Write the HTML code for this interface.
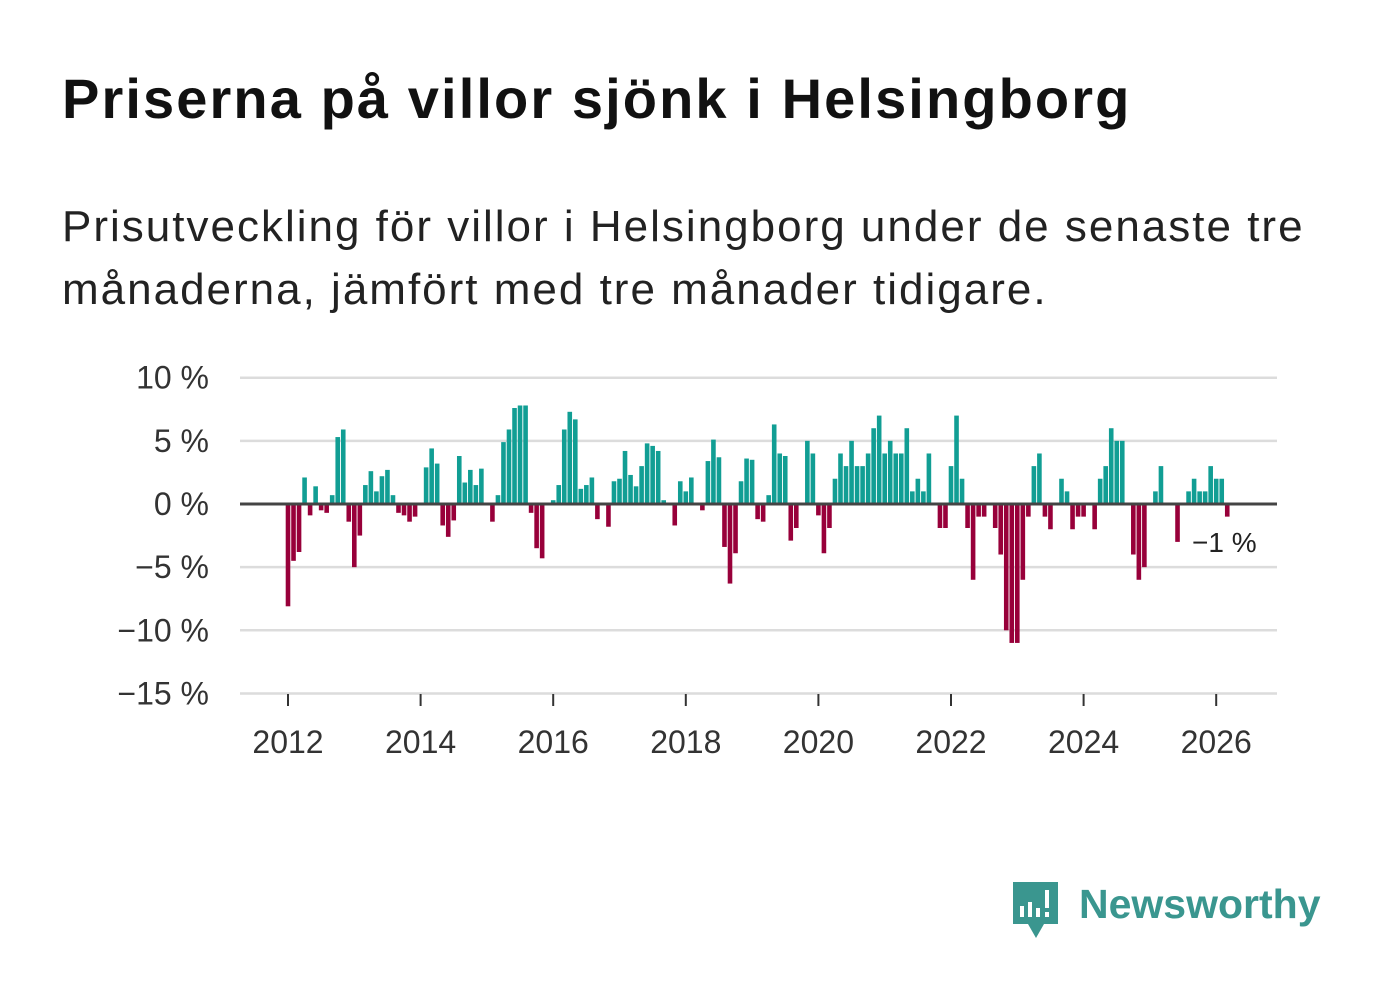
<!DOCTYPE html>
<html><head><meta charset="utf-8">
<style>
body{margin:0;background:#fff;width:1382px;height:999px;overflow:hidden;font-family:"Liberation Sans","DejaVu Sans",sans-serif;}
#title{position:absolute;left:62px;top:66px;font-size:56px;letter-spacing:2.1px;font-weight:bold;color:#111;margin:0;white-space:nowrap;}
#sub{position:absolute;left:62px;top:195px;font-size:44px;letter-spacing:2px;line-height:63px;color:#222;width:1320px;margin:0;white-space:nowrap;}
svg{position:absolute;left:0;top:0;}
</style></head><body>
<h1 id="title">Priserna på villor sjönk i Helsingborg</h1>
<p id="sub">Prisutveckling för villor i Helsingborg under de senaste tre<br>månaderna, jämfört med tre månader tidigare.</p>
<svg id="chart" width="1382" height="999"></svg>
<script>
const values = [
-8.1,-4.5,-3.8,2.1,-0.9,1.4,-0.5,-0.7,0.7,5.3,5.9,-1.4,
-5.0,-2.5,1.5,2.6,1.0,2.2,2.7,0.7,-0.7,-0.9,-1.4,-1.0,
0,2.9,4.4,3.2,-1.7,-2.6,-1.3,3.8,1.7,2.7,1.5,2.8,
0,-1.4,0.7,4.9,5.9,7.6,7.8,7.8,-0.7,-3.5,-4.3,0,
0.3,1.5,5.9,7.3,6.7,1.2,1.5,2.1,-1.2,0,-1.8,1.8,
2.0,4.2,2.3,1.4,3.0,4.8,4.6,4.2,0.3,0,-1.7,1.8,
1.0,2.1,0,-0.5,3.4,5.1,3.7,-3.4,-6.3,-3.9,1.8,3.6,
3.5,-1.2,-1.4,0.7,6.3,4.0,3.8,-2.9,-1.9,0,5.0,4.0,
-0.9,-3.9,-1.9,2.0,4.0,3.0,5.0,3.0,3.0,4.0,6.0,7.0,
4,5,4,4,6,1,2,1,4,0,-1.9,-1.9,
3,7,2,-1.9,-6,-1,-1,0,-1.9,-4,-10,-11,
-11,-6,-1,3,4,-1,-2,0,2,1,-2,-1,
-1,0,-2,2,3,6,5,5,0,-4,-6,-5,
0,1,3,0,0,-3,0,1,2,1,1,3,
2,2,-1];
const yTicks = [10,5,0,-5,-10,-15];
const yTickLabels = ["10 %","5 %","0 %","−5 %","−10 %","−15 %"];
const xTicks = [2012,2014,2016,2018,2020,2022,2024,2026];
const startYear = 2012;
const lastLabel = "−1 %";

const NS="http://www.w3.org/2000/svg";
const svg=document.getElementById('chart');
const y=v=>504-v*12.63;
const x=i=>288+i*5.525;
function mk(t,a){const e=document.createElementNS(NS,t);for(const k in a)e.setAttribute(k,a[k]);svg.appendChild(e);return e;}
yTicks.forEach((t,k)=>{
  if(t!==0){const g=mk('line',{x1:240,x2:1277,y1:y(t),y2:y(t),stroke:'#dcdcdc','stroke-width':2.5});
  
  }
  const tx=mk('text',{x:209,y:y(t)+11,'text-anchor':'end','font-size':32,fill:'#333','font-family':'Liberation Sans, sans-serif'});
  tx.textContent=yTickLabels[k];
  
  
});
xTicks.forEach(yr=>{
  const xx=x((yr-startYear)*12);
  const l=mk('line',{x1:xx,x2:xx,y1:694,y2:706,stroke:'#333','stroke-width':2});
  
  
  const tx=mk('text',{x:xx,y:753,'text-anchor':'middle','font-size':32,fill:'#333','font-family':'Liberation Sans, sans-serif'});
  tx.textContent=yr;
  
  
});
values.forEach((v,i)=>{
  const top=Math.min(y(v),y(0)),h=Math.abs(y(v)-y(0));
  const r=mk('rect',{x:x(i)-2.3,y:top,width:4.6,height:h,fill:v>=0?'#119e94':'#98003a'});
  
  
});
const z=mk('line',{x1:240,x2:1277,y1:504,y2:504,stroke:'#444','stroke-width':3});


const ll=mk('text',{x:1192,y:552,'font-size':28,fill:'#222','font-family':'Liberation Sans, sans-serif'});
ll.textContent=lastLabel;


const g=mk('g',{});


g.innerHTML='<path d="M1013 882h45v42h-14l-8 14-8-14h-15z" fill="#3a968f"/><rect x="1020" y="906" width="4" height="11" fill="#fff"/><rect x="1028" y="902" width="4" height="15" fill="#fff"/><rect x="1036" y="908" width="4" height="9" fill="#fff"/><rect x="1045" y="890" width="4" height="18" fill="#fff"/><rect x="1045" y="912" width="4" height="5" fill="#fff"/><text x="1079" y="918" font-size="41" font-weight="bold" fill="#3a968f" font-family="Liberation Sans, sans-serif">Newsworthy</text>';
</script>
</body></html>
